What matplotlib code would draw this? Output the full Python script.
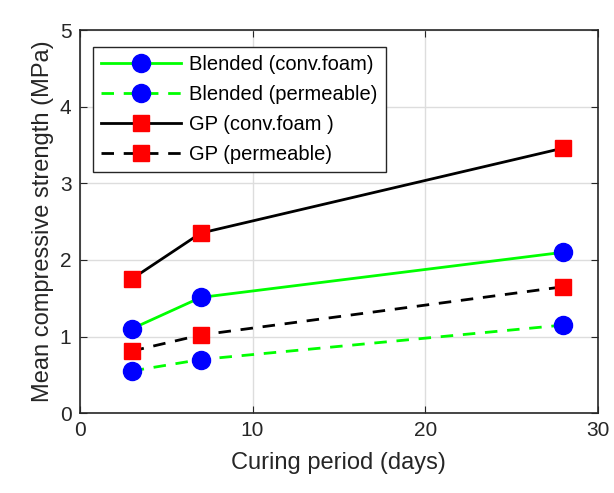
import numpy as np
import matplotlib
matplotlib.use('Agg')
import matplotlib.pyplot as plt

plt.rcParams['font.family'] = ['Liberation Sans', 'DejaVu Sans']

days = [3, 7, 28]
blended_conv = [1.10, 1.51, 2.10]
blended_perm = [0.55, 0.70, 1.15]
gp_conv = [1.75, 2.35, 3.46]
gp_perm = [0.81, 1.02, 1.65]

fig = plt.figure(figsize=(6.14, 4.93), dpi=100)
ax = fig.add_axes([0.130, 0.162, 0.844, 0.777])

dash = (4.5, 3.5)
ax.plot(days, blended_conv, '-', color='#00ff00', lw=2, marker='o', ms=13,
        mfc='blue', mec='blue', label='Blended (conv.foam)')
ax.plot(days, blended_perm, '--', color='#00ff00', lw=2, marker='o', ms=13,
        mfc='blue', mec='blue', dashes=dash, label='Blended (permeable)')
ax.plot(days, gp_conv, '-', color='black', lw=2, marker='s', ms=11,
        mfc='red', mec='red', label='GP (conv.foam )')
ax.plot(days, gp_perm, '--', color='black', lw=2, marker='s', ms=11,
        mfc='red', mec='red', dashes=dash, label='GP (permeable)')

ax.set_xlim(0, 30)
ax.set_ylim(0, 5)
ax.set_xticks([0, 10, 20, 30])
ax.set_yticks([0, 1, 2, 3, 4, 5])
ax.grid(True, color='#dddddd', lw=1)
ax.set_axisbelow(True)
ax.tick_params(direction='in', top=True, right=True, labelsize=15, colors='#262626',
               length=5, pad=6)
for s in ax.spines.values():
    s.set_color('#262626')
    s.set_linewidth(1.2)

ax.set_xlabel('Curing period (days)', fontsize=17, color='#262626', labelpad=8)
ax.set_ylabel('Mean compressive strength (MPa)', fontsize=17, color='#262626')

leg = ax.legend(loc='upper left', bbox_to_anchor=(0.025, 0.956), borderaxespad=0,
                fontsize=14.5, fancybox=False, framealpha=1, edgecolor='#262626',
                handlelength=4.0, borderpad=0.4, labelspacing=0.55, handletextpad=0.4)
leg.get_frame().set_linewidth(1)

fig.savefig('out.png', dpi=100)
